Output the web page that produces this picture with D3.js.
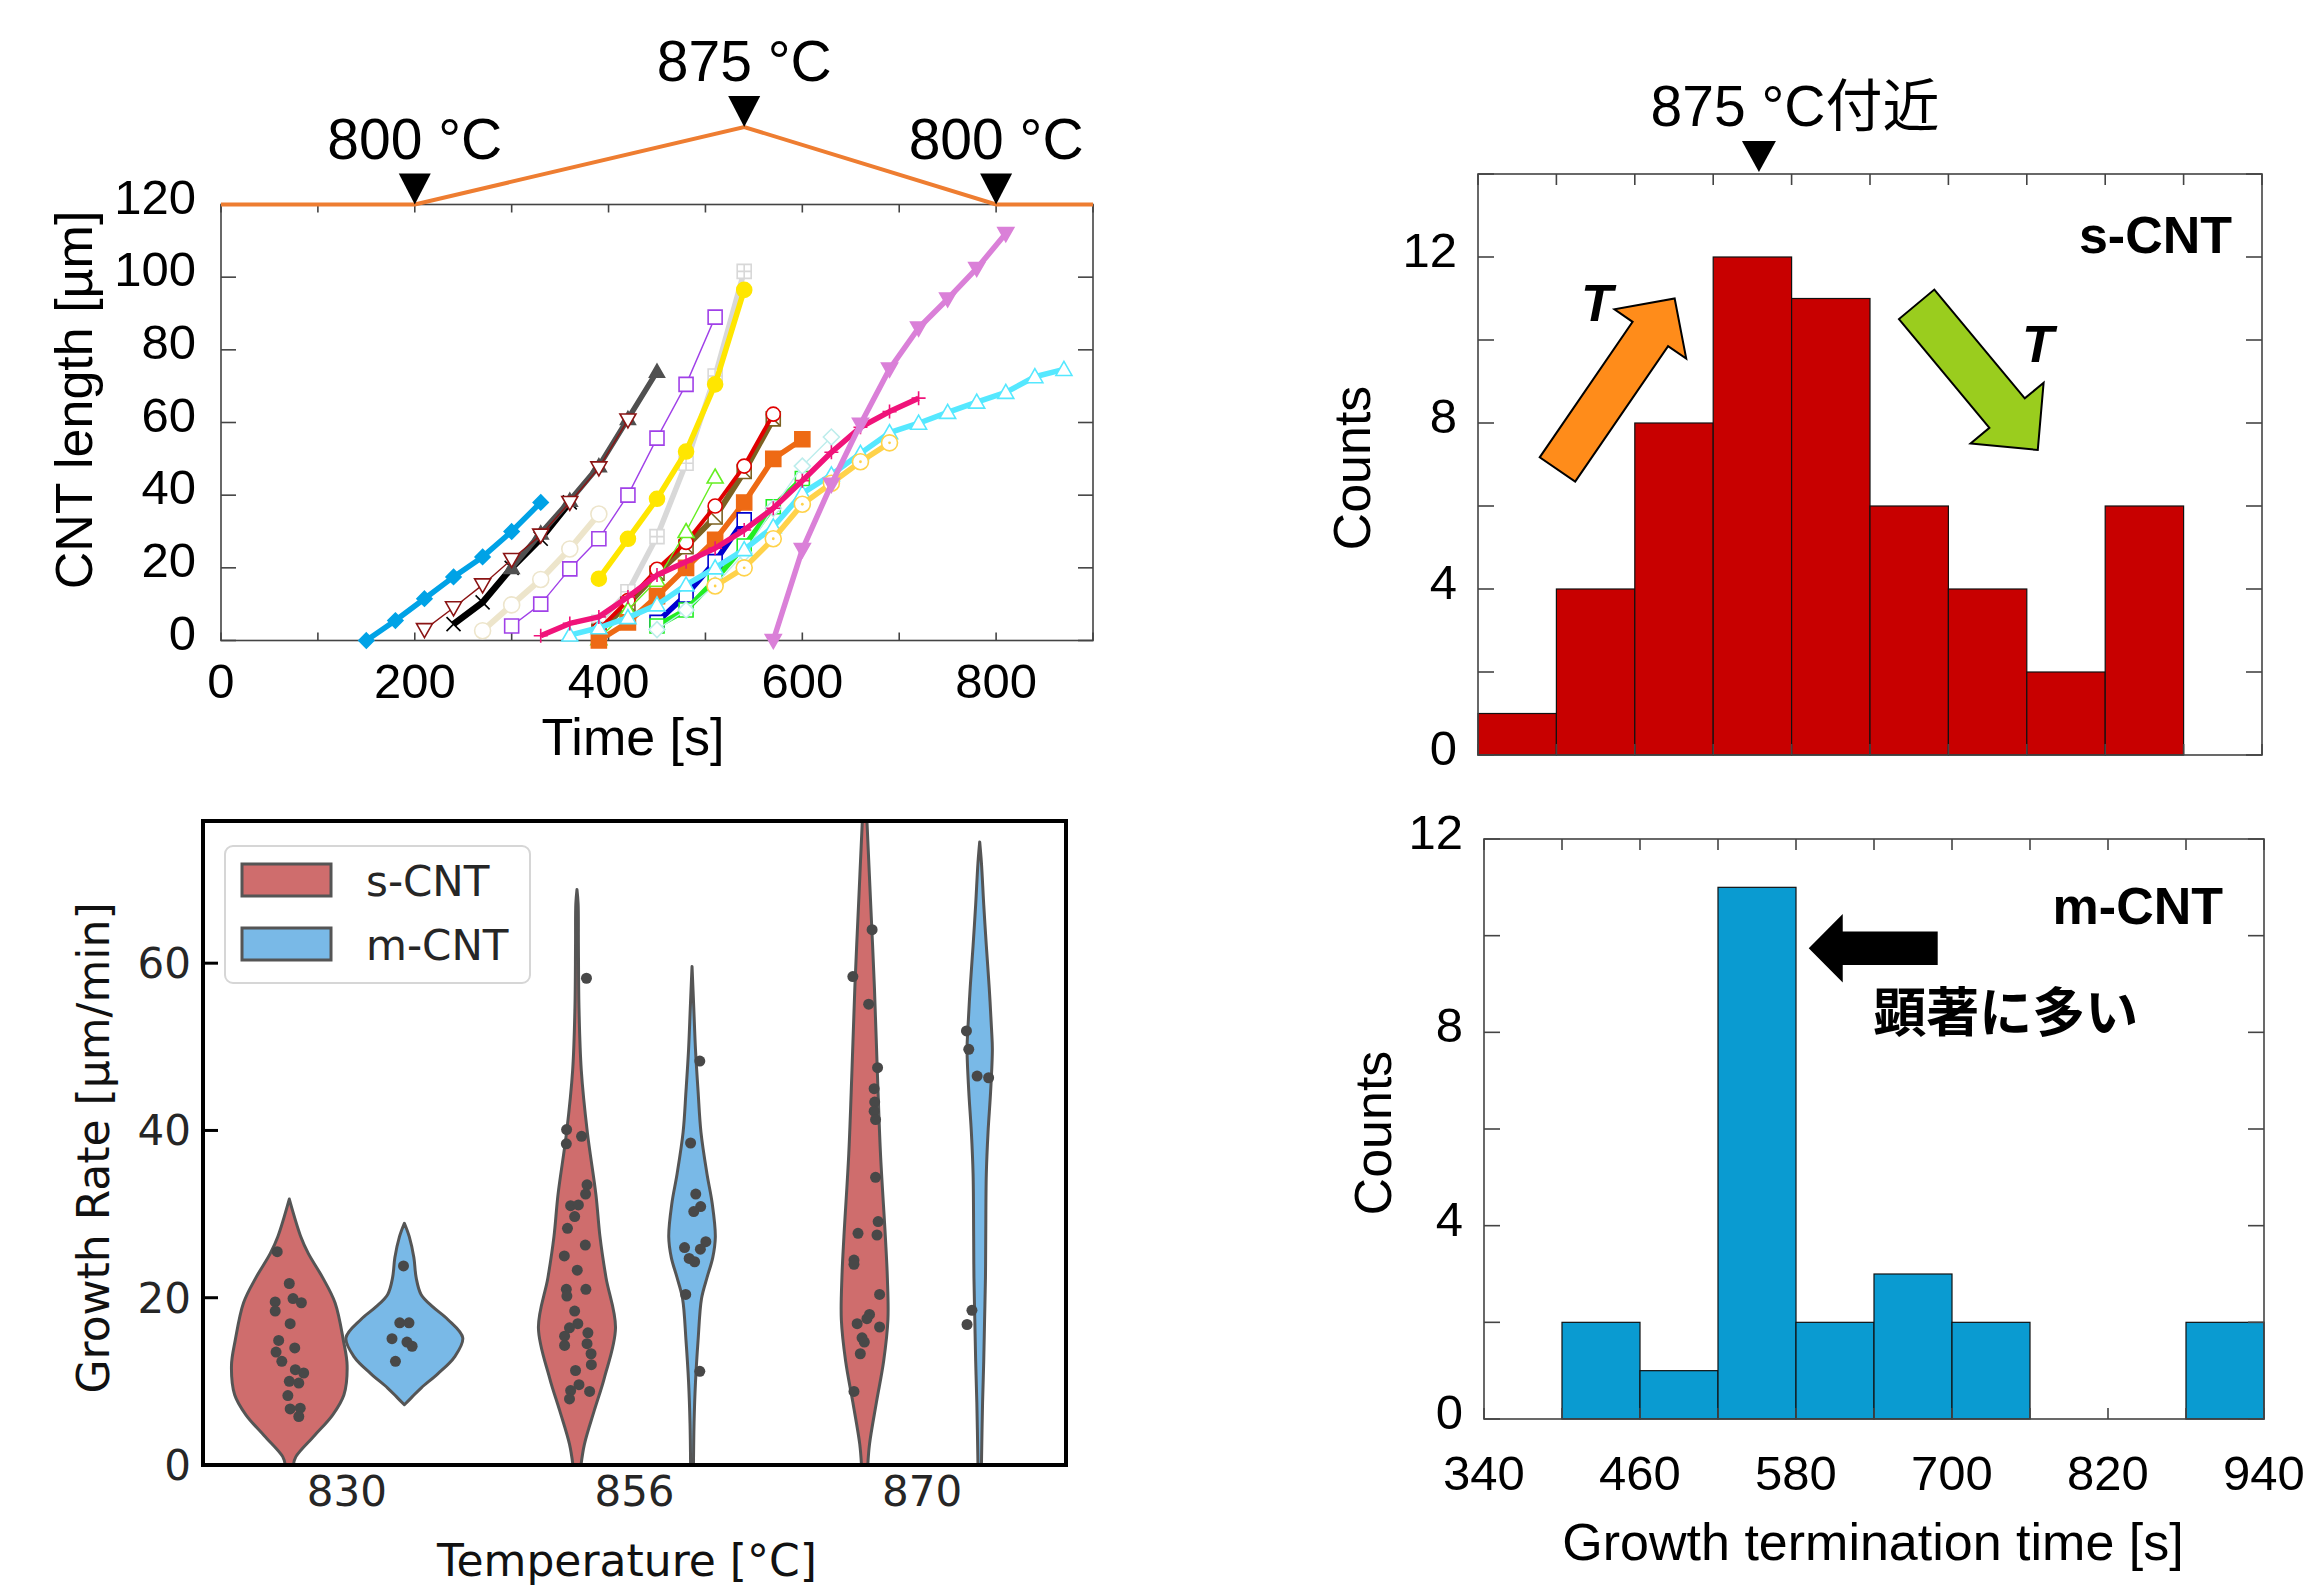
<!DOCTYPE html>
<html><head><meta charset="utf-8">
<script src="https://cdn.jsdelivr.net/npm/d3@7"></script>
<style>body{margin:0;background:#fff}svg{display:block}</style>
</head><body>
<svg id="c" width="2308" height="1588"></svg>
<script>
// ================= DATA =================
// Panel A: temperature profile
const tempTimes  = [0, 200, 540, 800, 900];
const tempValues = [800, 800, 875, 800, 800];
const tempMarkTimes  = [200, 540, 800];
const tempMarkLabels = ["800 °C", "875 °C", "800 °C"];
const timeTicks   = [0, 200, 400, 600, 800];
const lengthTicks = [0, 20, 40, 60, 80, 100, 120];

// Panel A: CNT length [µm] vs time [s]
const sBeige  = [[270,2.7],[300,9.8],[330,16.8],[360,25.2],[390,34.8]];
const sPurple = [[300,4],[330,10],[360,19.7],[390,28],[420,40],[450,55.7],[480,70.5],[510,89]];
const sBlue   = [[150,0],[180,5.5],[210,11.5],[240,17.5],[270,23],[300,30],[330,38]];
const sBlack  = [[240,4.5],[270,10.5],[300,20],[330,28],[360,38]];
const sGray   = [[300,20],[330,29.5],[360,38.5],[390,48],[420,61],[450,74]];
const sDarkRed= [[210,3],[240,9],[270,15.3],[300,22.3],[330,29],[360,38],[390,47.5],[420,60.7]];
const sSilver = [[390,5],[420,13.4],[450,28.6],[480,48.8],[510,72.8],[540,101.6]];
const sYellow = [[390,17],[420,28],[450,39],[480,52],[510,70.5],[540,96.5]];
const sOlive  = [[390,2.5],[420,10],[450,18.5],[480,25.8],[510,34],[540,46.5],[570,61]];
const sRed    = [[390,3],[420,11],[450,19.6],[480,27],[510,37],[540,48],[570,62.3]];
const sLime   = [[390,0.5],[420,8.4],[450,16.6],[480,30],[510,45]];
const sOrange = [[390,0],[420,5],[450,12.2],[480,20],[510,27.7],[540,38],[570,50],[600,55.4]];
const sNavy   = [[450,5],[480,12.5],[510,21.7],[540,33.2]];
const sGreen  = [[450,4],[480,8.4],[510,16.7],[540,26],[570,36.8],[600,44.6]];
const sTurq   = [[450,3],[480,8.4],[510,15.3],[540,24],[570,36.4],[600,48],[630,56]];
const sAqua   = [[360,1.5],[390,3.5],[420,6.3],[450,9.8],[480,15.3],[510,20],[540,25],[570,31.3],[600,40.5],[630,45.6],[660,51.5],[690,57.2],[720,59.8],[750,62.8],[780,65.6],[810,68.3],[840,72.6],[870,74.6]];
const sPink   = [[330,1.3],[360,4.7],[390,6.5],[420,12],[450,18],[480,21.7],[510,25.4],[540,30.4],[570,36.4],[600,44],[630,51.8],[660,58.7],[690,63],[720,66.7]];
const sGold   = [[510,15],[540,20],[570,28],[600,37.5],[630,43.3],[660,49.2],[690,54.4]];
const sOrchid = [[570,0],[600,25],[630,43],[660,59.5],[690,74.7],[720,86],[750,94],[780,102.4],[810,112]];

// Panel B: violin plot (outline: [value, half-width in category units]; strip: [offset, value])
const violinCategories = ["830", "856", "870"];
const hueGroups = ["s-CNT", "m-CNT"];
const rateTicks = [0, 20, 40, 60];
const outlineS830 = [[31.8,0],[27.3,0.040],[25.3,0.066],[22.4,0.116],[19.4,0.159],[14.9,0.188],[11.9,0.201],[8.4,0.19],[6.0,0.151],[3.5,0.087],[1.0,0.023],[0,0.014]];
const outlineM830 = [[28.9,0],[27.3,0.017],[24.8,0.033],[22.4,0.041],[20.4,0.058],[18.9,0.099],[17.4,0.151],[15.2,0.203],[12.9,0.174],[10.9,0.116],[9.2,0.058],[8.0,0.023],[7.2,0]];
const outlineS856 = [[68.8,0],[67.1,0.004],[62.1,0.005],[54.7,0.007],[47.2,0.015],[39.8,0.036],[32.3,0.066],[27.3,0.08],[22.4,0.101],[16.4,0.134],[10.4,0.095],[6.5,0.06],[2.5,0.026],[0,0.014]];
const outlineM856 = [[59.6,0],[54.7,0.006],[49.7,0.012],[44.7,0.021],[39.8,0.031],[34.8,0.052],[31.3,0.07],[27.3,0.081],[24.8,0.072],[22.4,0.052],[19.9,0.033],[14.9,0.021],[9.9,0.012],[5.0,0.007],[0,0.005]];
const outlineS870 = [[80,0.004],[77,0.008],[67.1,0.021],[57.1,0.034],[47.2,0.044],[37.3,0.055],[27.3,0.072],[22.4,0.079],[17.4,0.081],[12.4,0.066],[7.5,0.041],[2.5,0.017],[0,0.011]];
const outlineM870 = [[74.5,0],[72,0.006],[67,0.014],[62.1,0.023],[57.1,0.033],[52.2,0.041],[49.7,0.044],[44.7,0.038],[39.8,0.029],[34.8,0.023],[27.3,0.021],[22.4,0.02],[17.4,0.017],[12.4,0.014],[7.5,0.01],[0,0.006]];
const stripS830 = [[-0.042,25.5],[0,21.7],[-0.049,19.5],[0.013,19.9],[0.042,19.4],[-0.049,18.4],[0.003,16.9],[-0.037,14.9],[0.019,14.0],[-0.046,13.5],[-0.026,12.4],[0.021,11.4],[0.05,11.0],[0,10.0],[0.033,9.8],[-0.005,8.3],[0.003,6.7],[0.038,6.8],[0.033,5.8]];
const stripM830 = [[-0.003,23.8],[-0.016,17.0],[0.016,17.0],[-0.043,15.1],[0.009,14.7],[0.027,14.2],[-0.031,12.4]];
const stripS856 = [[0.033,58.2],[-0.036,40.1],[-0.037,38.4],[0.016,39.3],[0.035,33.5],[0.030,32.4],[-0.022,31.0],[0.005,31.1],[-0.008,29.7],[-0.033,28.3],[0.029,26.3],[-0.044,25.0],[0.001,23.3],[0.031,21.0],[-0.037,21.0],[-0.035,20.2],[-0.008,18.4],[0.003,16.9],[-0.026,16.4],[0.038,15.8],[-0.043,15.4],[-0.043,14.3],[0.035,14.5],[0.049,13.3],[0.050,12.0],[-0.005,11.3],[0.007,9.6],[-0.022,8.9],[0.044,8.8],[-0.026,7.9]];
const stripM856 = [[0.027,48.3],[-0.005,38.5],[0.013,32.4],[0.030,30.9],[0.006,30.3],[0.048,26.7],[0.029,25.8],[-0.026,26.0],[-0.010,24.7],[0.009,24.3],[-0.022,20.4],[0.027,11.2]];
const stripS870 = [[0.026,64.0],[-0.041,58.4],[0.014,55.1],[0.045,47.5],[0.033,45.0],[0.035,43.4],[0.033,42.3],[0.038,41.3],[0.038,34.4],[0.047,29.1],[0.043,27.5],[-0.023,27.7],[-0.037,24.5],[-0.037,24.0],[0.052,20.4],[0.017,18.0],[0.008,17.5],[-0.026,16.9],[0.052,16.5],[-0.009,15.2],[-0.001,14.7],[-0.015,13.3],[-0.037,8.8]];
const stripM870 = [[-0.046,51.9],[-0.038,49.7],[-0.009,46.5],[0.031,46.3],[-0.027,18.5],[-0.044,16.8]];

// Panels C, D: histograms of growth termination time
const binEdges = [340, 400, 460, 520, 580, 640, 700, 760, 820, 880, 940];
const sCounts  = [1, 4, 8, 12, 11, 6, 4, 2, 6, 0];
const mCounts  = [0, 2, 1, 11, 2, 3, 2, 0, 0, 2];
const countTicks = [0, 4, 8, 12];
const histTimeLabels = [340, 460, 580, 700, 820, 940];
const peakTime = 555;

// ================= DRAW =================
const svg = d3.select("#c");
svg.append("rect").attr("width",2308).attr("height",1588).attr("fill","#fff");
const FA = "'Liberation Sans', Arial, 'Noto Sans CJK JP', sans-serif";
const FJ = "'Liberation Sans', Arial, 'Noto Sans CJK JP', sans-serif";
const FD = "'DejaVu Sans', sans-serif";

function line(g,x1,y1,x2,y2,c,w){g.append("line").attr("x1",x1).attr("y1",y1).attr("x2",x2).attr("y2",y2).attr("stroke",c).attr("stroke-width",w);}
function text(g,x,y,s,size,anchor,fam,opts={}){
  const t=g.append("text").attr("x",x).attr("y",y).text(s).attr("font-size",size).attr("text-anchor",anchor).attr("font-family",fam).attr("fill",opts.fill||"#000");
  if(opts.weight) t.attr("font-weight",opts.weight);
  if(opts.style) t.attr("font-style",opts.style);
  if(opts.rotate) t.attr("transform",`rotate(-90,${x},${y})`);
  return t;
}

// ---------- Panel A ----------
const A={l:221,r:1093,t:204.5,b:640.5};
const xA=d3.scaleLinear().domain([0,900]).range([A.l,A.r]);
const yA=d3.scaleLinear().domain([0,120]).range([A.b,A.t]);
const yT=d3.scaleLinear().domain([800,875]).range([A.t,127]);
const gA=svg.append("g");
gA.append("rect").attr("x",A.l).attr("y",A.t).attr("width",A.r-A.l).attr("height",A.b-A.t).attr("fill","none").attr("stroke","#444").attr("stroke-width",1.6);
d3.range(0,901,100).forEach(t=>{line(gA,xA(t),A.b,xA(t),A.b-8,"#444",1.6);line(gA,xA(t),A.t,xA(t),A.t+8,"#444",1.6);});
lengthTicks.forEach(v=>{line(gA,A.l,yA(v),A.l+15,yA(v),"#444",1.6);line(gA,A.r,yA(v),A.r-15,yA(v),"#444",1.6);
  text(gA,196,yA(v)+9,String(v),49,"end",FA);});
timeTicks.forEach(t=>text(gA,xA(t),698,String(t),49,"middle",FA));
text(gA,633,755,"Time [s]",52,"middle",FA);
text(gA,92,400,"CNT length [µm]",52,"middle",FA,{rotate:true});

function markerPath(shape,s){
  switch(shape){
    case "diamond": return `M0,${-s}L${s},0L0,${s}L${-s},0Z`;
    case "triUp": return `M0,${-s}L${s},${s*0.75}L${-s},${s*0.75}Z`;
    case "triDown": return `M0,${s}L${s},${-s*0.75}L${-s},${-s*0.75}Z`;
    case "square": return `M${-s},${-s}H${s}V${s}H${-s}Z`;
    case "circle": return `M${s},0A${s},${s} 0 1,1 ${-s},0A${s},${s} 0 1,1 ${s},0Z`;
  }
  return "";
}
const seriesStyle = [
  {data:sBeige,  color:"#EDE5CB", w:6,   shape:"circle",  fill:"open", s:8},
  {data:sPurple, color:"#A040E8", w:1.4, shape:"square",  fill:"open", s:7},
  {data:sBlue,   color:"#00A2E6", w:5.5, shape:"diamond", fill:"solid",s:7.5},
  {data:sBlack,  color:"#000000", w:6.5, shape:null, extra:"x", s:7},
  {data:sGray,   color:"#505050", w:5.5, shape:"triUp",   fill:"solid",s:7.5},
  {data:sDarkRed,color:"#8B1414", w:1.4, shape:"triDown", fill:"open", s:8},
  {data:sSilver, color:"#D8D8D8", w:5.5, shape:"square",  fill:"open", s:7, extra:"plus"},
  {data:sYellow, color:"#FFE600", w:5.5, shape:"circle",  fill:"solid",s:7.5},
  {data:sOlive,  color:"#7C6222", w:6,   shape:"square",  fill:"open", s:7, extra:"diag"},
  {data:sRed,    color:"#E00000", w:4,   shape:"circle",  fill:"open", s:7},
  {data:sLime,   color:"#66EE22", w:1.4, shape:"triUp",   fill:"open", s:8},
  {data:sOrange, color:"#EE6A14", w:5.5, shape:"square",  fill:"solid",s:7.5},
  {data:sNavy,   color:"#0000D0", w:5.5, shape:"square",  fill:"open", s:7},
  {data:sGreen,  color:"#22EE22", w:5.5, shape:"square",  fill:"open", s:7, extra:"dot"},
  {data:sTurq,   color:"#BDEDEC", w:1.4, shape:"diamond", fill:"open", s:8},
  {data:sAqua,   color:"#55E8FF", w:5.5, shape:"triUp",   fill:"open", s:8},
  {data:sPink,   color:"#F0137A", w:5.5, shape:null, extra:"plus", s:7},
  {data:sGold,   color:"#FFD24A", w:5.5, shape:"circle",  fill:"open", s:8, extra:"dot"},
  {data:sOrchid, color:"#DA80D8", w:5.5, shape:"triDown", fill:"solid",s:8}
];
const lineA=d3.line().x(d=>xA(d[0])).y(d=>yA(d[1]));
seriesStyle.forEach(st=>{
  const g=gA.append("g");
  g.append("path").attr("d",lineA(st.data)).attr("fill","none").attr("stroke",st.color).attr("stroke-width",st.w).attr("stroke-linejoin","round");
  st.data.forEach(d=>{
    const m=g.append("g").attr("transform",`translate(${xA(d[0])},${yA(d[1])})`);
    const s=st.s;
    if(st.shape){
      m.append("path").attr("d",markerPath(st.shape,s))
        .attr("fill",st.fill==="solid"?st.color:"#fff").attr("stroke",st.color).attr("stroke-width",1.6);
    }
    if(st.extra==="x") m.append("path").attr("d",`M${-s},${-s}L${s},${s}M${-s},${s}L${s},${-s}`).attr("stroke",st.color).attr("stroke-width",1.6);
    if(st.extra==="plus") m.append("path").attr("d",`M0,${-s}V${s}M${-s},0H${s}`).attr("stroke",st.color).attr("stroke-width",1.6);
    if(st.extra==="diag") m.append("path").attr("d",`M${-s},${-s}L${s},${s}`).attr("stroke",st.color).attr("stroke-width",1.6);
    if(st.extra==="dot") m.append("circle").attr("r",1.4).attr("fill",st.color);
  });
});
// temperature profile
const tempLine=d3.line().x((d,i)=>xA(tempTimes[i])).y((d,i)=>yT(tempValues[i]));
gA.append("path").attr("d",tempLine(tempTimes)).attr("fill","none").attr("stroke","#EE7D31").attr("stroke-width",4);
tempMarkTimes.forEach((t,i)=>{
  const v=tempValues[tempTimes.indexOf(t)];
  const x=xA(t), y=yT(v);
  gA.append("path").attr("d",`M${x-16},${y-31}L${x+16},${y-31}L${x},${y}Z`).attr("fill","#000");
  text(gA,x,y-46,tempMarkLabels[i],57,"middle",FA);
});

// ---------- Panel B (violins) ----------
const B={l:203,r:1066,t:821,b:1465};
const xB=d3.scaleLinear().domain([-0.5,2.5]).range([B.l,B.r]);
const yB=d3.scaleLinear().domain([0,77]).range([B.b,B.t]);
const unit=xB(1)-xB(0);
const gB=svg.append("g");
svg.append("clipPath").attr("id","clipB").append("rect").attr("x",B.l).attr("y",B.t).attr("width",B.r-B.l).attr("height",B.b-B.t);
const violinColors={"s-CNT":"#CF6D6D","m-CNT":"#79B9E7"};
const violins=[
  {cat:0,hue:"s-CNT",outline:outlineS830,strip:stripS830},
  {cat:0,hue:"m-CNT",outline:outlineM830,strip:stripM830},
  {cat:1,hue:"s-CNT",outline:outlineS856,strip:stripS856},
  {cat:1,hue:"m-CNT",outline:outlineM856,strip:stripM856},
  {cat:2,hue:"s-CNT",outline:outlineS870,strip:stripS870},
  {cat:2,hue:"m-CNT",outline:outlineM870,strip:stripM870}
];
const gV=gB.append("g").attr("clip-path","url(#clipB)");
violins.forEach(v=>{
  const c=v.cat+(v.hue==="s-CNT"?-0.2:0.2);
  const area=d3.area().y(d=>yB(d[0])).x0(d=>xB(c)-d[1]*unit).x1(d=>xB(c)+d[1]*unit).curve(d3.curveCatmullRom.alpha(0.5));
  gV.append("path").attr("d",area(v.outline)).attr("fill",violinColors[v.hue]).attr("stroke","#555").attr("stroke-width",3).attr("stroke-linejoin","round");
});
violins.forEach(v=>{
  const c=v.cat+(v.hue==="s-CNT"?-0.2:0.2);
  v.strip.forEach(p=>gV.append("circle").attr("cx",xB(c+p[0])).attr("cy",yB(p[1])).attr("r",5.5).attr("fill","#484848"));
});
gB.append("rect").attr("x",B.l).attr("y",B.t).attr("width",B.r-B.l).attr("height",B.b-B.t).attr("fill","none").attr("stroke","#000").attr("stroke-width",4);
rateTicks.forEach(v=>{line(gB,B.l,yB(v),B.l+15,yB(v),"#000",3);text(gB,191,yB(v)+15,String(v),42,"end",FD,{fill:"#262626"});});
violinCategories.forEach((c,i)=>text(gB,xB(i),1506,c,42,"middle",FD,{fill:"#262626"}));
text(gB,627,1576,"Temperature [°C]",44,"middle",FD,{fill:"#111"});
text(gB,109,1148,"Growth Rate [µm/min]",44,"middle",FD,{rotate:true,fill:"#111"});
// legend
const leg=gB.append("g");
leg.append("rect").attr("x",225).attr("y",846).attr("width",305).attr("height",137).attr("rx",8).attr("fill","#fff").attr("fill-opacity",0.85).attr("stroke","#d6d6d6").attr("stroke-width",2);
hueGroups.forEach((h,i)=>{
  const y0=864+i*64;
  leg.append("rect").attr("x",242).attr("y",y0).attr("width",89).attr("height",32).attr("fill",violinColors[h]).attr("stroke","#555").attr("stroke-width",3);
  text(leg,366,y0+32,h,42,"start",FD,{fill:"#262626"});
});

// ---------- Histograms ----------
function histogram(P,counts,ymax,color,showXLabels){
  const g=svg.append("g");
  const x=d3.scaleLinear().domain([340,940]).range([P.l,P.r]);
  const y=d3.scaleLinear().domain([0,ymax]).range([P.b,P.t]);
  counts.forEach((c,i)=>{ if(c>0) g.append("rect").attr("x",x(binEdges[i])).attr("y",y(c)).attr("width",x(binEdges[i+1])-x(binEdges[i])).attr("height",y(0)-y(c)).attr("fill",color).attr("stroke","#111").attr("stroke-width",1.2);});
  g.append("rect").attr("x",P.l).attr("y",P.t).attr("width",P.r-P.l).attr("height",P.b-P.t).attr("fill","none").attr("stroke","#444").attr("stroke-width",1.6);
  binEdges.forEach(t=>{line(g,x(t),P.b,x(t),P.b-11,"#444",1.6);line(g,x(t),P.t,x(t),P.t+11,"#444",1.6);});
  d3.range(0,ymax+0.1,2).forEach(v=>{line(g,P.l,y(v),P.l+16,y(v),"#444",1.6);line(g,P.r,y(v),P.r-16,y(v),"#444",1.6);});
  countTicks.forEach(v=>text(g,P.l-21,y(v)+10,String(v),49,"end",FA));
  if(showXLabels) histTimeLabels.forEach(t=>text(g,x(t),1490,String(t),49,"middle",FA));
  return {g,x,y};
}
function blockArrow(x0,y0,x1,y1,sw,hw,hl){
  const dx=x1-x0,dy=y1-y0,L=Math.hypot(dx,dy),ux=dx/L,uy=dy/L,px=-uy,py=ux;
  const bx=x1-ux*hl,by=y1-uy*hl;
  return [[x0+px*sw/2,y0+py*sw/2],[bx+px*sw/2,by+py*sw/2],[bx+px*hw/2,by+py*hw/2],[x1,y1],[bx-px*hw/2,by-py*hw/2],[bx-px*sw/2,by-py*sw/2],[x0-px*sw/2,y0-py*sw/2]];
}
const C={l:1478,r:2262,t:174,b:755};
const hC=histogram(C,sCounts,14,"#C80000",false);
text(hC.g,1370,468,"Counts",52,"middle",FA,{rotate:true});
text(hC.g,2232,253,"s-CNT",52,"end",FA,{weight:"bold"});
{
  const xp=hC.x(peakTime);
  hC.g.append("path").attr("d",`M${xp-17},${C.t-33}L${xp+17},${C.t-33}L${xp},${C.t-2}Z`).attr("fill","#000");
  text(hC.g,1795,126,"875 °C付近",57,"middle",FJ);
  const ar1=blockArrow(hC.x(400.8),hC.y(6.88),hC.x(490.5),hC.y(11.0),43,87,43);
  hC.g.append("path").attr("d","M"+ar1.join("L")+"Z").attr("fill","#FF8C1A").attr("stroke","#000").attr("stroke-width",2).attr("stroke-linejoin","miter");
  const ar2=blockArrow(hC.x(675.7),hC.y(10.86),hC.x(768.4),hC.y(7.35),46,95,48);
  hC.g.append("path").attr("d","M"+ar2.join("L")+"Z").attr("fill","#9ACD1E").attr("stroke","#000").attr("stroke-width",2).attr("stroke-linejoin","miter");
  text(hC.g,hC.x(431),hC.y(10.9)+18,"T",52,"middle",FA,{weight:"bold",style:"italic"});
  text(hC.g,hC.x(768.4),hC.y(9.9)+18,"T",52,"middle",FA,{weight:"bold",style:"italic"});
}
const D={l:1484,r:2264,t:839,b:1419};
const hD=histogram(D,mCounts,12,"#0A9BD1",true);
text(hD.g,1391,1133,"Counts",52,"middle",FA,{rotate:true});
text(hD.g,1873,1560,"Growth termination time [s]",52,"middle",FA);
text(hD.g,2223,924,"m-CNT",52,"end",FA,{weight:"bold"});
{
  const ar=blockArrow(hD.x(689),hD.y(9.74),hD.x(589.8),hD.y(9.74),33.5,68.5,34);
  hD.g.append("path").attr("d","M"+ar.join("L")+"Z").attr("fill","#000");
  text(hD.g,hD.x(639.5),hD.y(8.0),"顕著に多い",53,"start","'Noto Sans CJK JP', sans-serif",{weight:"bold"});
}
</script>
</body></html>
